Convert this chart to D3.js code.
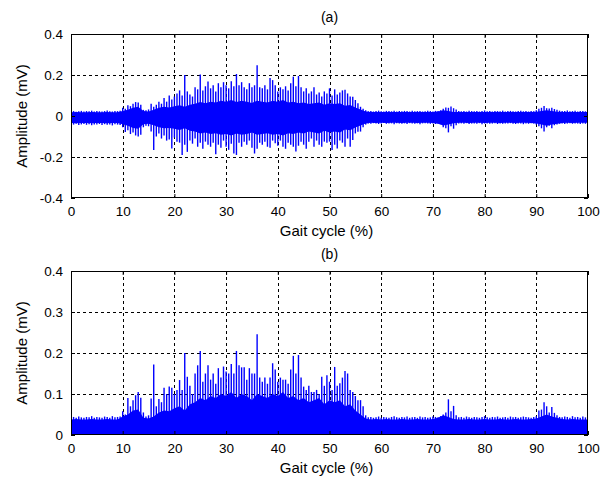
<!DOCTYPE html>
<html><head><meta charset="utf-8">
<script src="https://cdn.jsdelivr.net/npm/d3@7"></script>
<style>
body{margin:0;background:#fff}
svg{display:block}
text{font-family:"Liberation Sans",Arial,sans-serif;fill:#000}
</style>
</head><body>
<svg id="chart" width="608" height="479"></svg>
<script>
// ---------- DATA ----------
const sampleStep = 0.5;           // % of gait cycle between peak samples
const coreStep = 1;               // % of gait cycle between core-envelope samples

// (a) raw EMG: positive / negative peak per 0.5 % (µV)
const aPosPeak_uV = [
 22,24,21,23,25,22,24,23,26,22,25,23,22,24,27,23,22,25,24,26,
 40,35,52,48,60,68,66,55,30,28,32,60,45,55,70,60,88,70,100,80,
 95,110,125,100,200,120,105,95,140,130,202,125,145,168,135,150,120,160,140,165,
 150,135,170,145,205,150,165,140,130,160,140,150,248,140,135,150,130,185,175,150,
 120,140,130,145,125,160,192,145,195,140,120,135,110,120,140,105,115,95,120,110,
 135,100,130,105,115,125,128,110,95,94,78,62,45,35,28,
 23,25,22,24,26,23,22,25,24,23,26,22,24,23,25,24,22,26,23,24,25,22,23,26,24,22,25,24,28,
 35,42,40,46,38,32,
 25,23,24,22,26,24,23,25,22,24,27,23,24,22,25,24,23,26,22,24,25,23,22,24,26,23,25,22,24,23,28,
 35,40,49,38,36,40,34,30,
 26,24,25,27,23,24,26,22,25,24,23,24
];
const aNegPeak_uV = [
 -40,-42,-38,-44,-41,-39,-43,-40,-45,-41,-42,-39,-44,-40,-43,-41,-46,-40,-42,-44,
 -55,-78,-70,-88,-80,-95,-100,-92,-55,-48,-50,-75,-166,-100,-85,-110,-95,-120,-115,-158,
 -105,-125,-130,-190,-140,-175,-120,-135,-110,-150,-130,-160,-125,-140,-150,-130,-186,-140,-155,-120,
 -150,-165,-135,-183,-190,-130,-150,-125,-140,-120,-155,-183,-160,-130,-140,-125,-150,-155,-120,-133,
 -145,-120,-150,-160,-130,-140,-150,-173,-145,-125,-140,-160,-125,-110,-150,-120,-140,-150,-125,-130,
 -125,-166,-140,-158,-120,-130,-150,-110,-150,-117,-85,-77,-76,-55,-42,
 -36,-38,-35,-37,-39,-36,-34,-38,-37,-36,-40,-35,-37,-38,-36,-39,-35,-37,-38,-36,-40,-36,-35,-37,-38,-36,-39,-37,-40,
 -55,-60,-80,-50,-62,-45,
 -37,-36,-38,-35,-39,-37,-36,-38,-35,-40,-37,-36,-38,-37,-35,-39,-36,-38,-37,-36,-35,-38,-39,-36,-37,-40,-36,-38,-35,-37,-42,
 -50,-60,-76,-55,-48,-60,-45,-42,
 -38,-36,-39,-37,-35,-38,-36,-37,-39,-36,-38,-37
];
// (a) dense core band per 1 % (µV)
const aCoreTop_uV = [
 18,19,18,18,19,18,18,19,18,18,
 25,30,40,45,25,22,30,40,45,42,
 48,52,45,55,60,68,62,70,66,75,
 70,78,68,75,70,64,75,70,66,75,
 70,78,66,70,62,66,58,62,66,55,
 62,58,62,50,54,42,32,22,19,20,
 19,20,19,19,20,19,19,20,19,19,
 20,22,28,25,20,19,19,20,19,19,
 20,19,19,20,19,19,20,19,19,20,
 21,25,28,24,21,20,19,20,19,19,
 19
];
const aCoreBot_uV = [
 -34,-35,-34,-34,-35,-34,-34,-35,-34,-34,
 -40,-48,-58,-62,-40,-38,-45,-55,-60,-58,
 -62,-68,-60,-72,-76,-85,-80,-88,-84,-92,
 -88,-95,-85,-92,-88,-80,-92,-88,-84,-92,
 -88,-95,-84,-88,-80,-85,-76,-80,-85,-72,
 -80,-76,-80,-66,-70,-56,-46,-36,-33,-34,
 -33,-34,-33,-33,-34,-33,-33,-34,-33,-33,
 -34,-38,-46,-42,-35,-33,-33,-34,-33,-33,
 -34,-33,-33,-34,-33,-33,-34,-33,-33,-34,
 -36,-42,-48,-42,-38,-34,-33,-34,-33,-33,
 -33
];

// (b) rectified EMG: peak per 0.5 % (µV)
const bPeak_uV = [
 43,44,42,45,43,42,44,43,46,42,44,43,42,45,44,42,46,43,44,45,
 58,50,90,70,85,97,105,91,55,45,48,89,172,70,88,80,115,100,118,115,
 100,110,134,110,200,142,120,100,150,170,205,130,150,170,135,150,125,163,140,167,
 155,150,173,150,205,170,165,165,135,163,150,150,246,140,130,140,125,140,175,160,
 130,140,135,135,125,160,193,150,195,140,118,110,120,105,105,110,100,142,120,146,
 130,110,166,120,126,140,156,150,110,105,95,85,85,70,48,
 43,44,42,43,45,42,44,43,42,44,46,43,42,44,43,45,42,43,44,42,45,43,44,42,43,45,44,43,46,
 50,55,87,58,71,48,
 43,44,42,45,43,42,44,43,42,44,46,43,42,44,43,45,42,43,44,42,45,43,44,42,43,45,44,43,42,44,46,
 60,62,80,70,55,68,54,48,
 44,43,45,44,42,46,43,44,42,45,43,44
];
// (b) dense core per 1 % (µV)
const bCore_uV = [
 38,39,38,38,39,38,38,39,38,38,
 45,50,60,62,42,40,45,55,60,58,
 65,70,60,75,80,90,85,95,90,100,
 95,105,90,100,95,85,100,95,90,100,
 95,105,90,95,85,90,80,85,90,75,
 85,80,85,70,75,60,50,40,38,39,
 38,39,38,38,39,38,38,39,38,38,
 39,42,48,44,39,38,38,39,38,38,
 39,38,38,39,38,38,39,38,38,39,
 40,45,50,45,42,39,38,39,38,38,
 38
];

// axes / text
const xTicks = [0,10,20,30,40,50,60,70,80,90,100];
const yTicksA = [-0.4,-0.2,0,0.2,0.4];
const yTicksB = [0,0.1,0.2,0.3,0.4];
const panelTitles = ["(a)","(b)"];
const xLabel = "Gait cycle (%)";
const yLabel = "Amplitude (mV)";

// ---------- DRAWING ----------
const svg = d3.select("#chart");
const L = 71, R = 588;
const x = d3.scaleLinear().domain([0,100]).range([L,R]);
const blue = "#0000ff";

function panel(id, top, bottom, yDomain, yTicks, title, drawData){
  const y = d3.scaleLinear().domain(yDomain).range([bottom, top]);
  const g = svg.append("g");
  const clipId = "clip"+id;
  g.append("clipPath").attr("id",clipId).append("rect")
    .attr("x",L).attr("y",top).attr("width",R-L).attr("height",bottom-top);

  // grid (below data)
  const grid = g.append("g").attr("stroke","#000").attr("stroke-width",1).attr("stroke-dasharray","3,3");
  xTicks.slice(1,-1).forEach(t=>{
    grid.append("line").attr("x1",Math.round(x(t))+0.5).attr("x2",Math.round(x(t))+0.5)
      .attr("y1",top).attr("y2",bottom);
  });
  yTicks.slice(1,-1).forEach(t=>{
    grid.append("line").attr("y1",Math.round(y(t))+0.5).attr("y2",Math.round(y(t))+0.5)
      .attr("x1",L).attr("x2",R);
  });

  const dg = g.append("g").attr("clip-path",`url(#${clipId})`);
  drawData(dg, y);

  // axes
  const fmt = d => d===0 ? "0" : String(d);
  const ax = g.append("g").attr("transform",`translate(0,${bottom})`)
    .call(d3.axisBottom(x).tickValues(xTicks).tickSize(-4).tickPadding(8).tickFormat(fmt));
  const axT = g.append("g").attr("transform",`translate(0,${top})`)
    .call(d3.axisTop(x).tickValues(xTicks).tickSize(-4).tickFormat(""));
  const ay = g.append("g").attr("transform",`translate(${L},0)`)
    .call(d3.axisLeft(y).tickValues(yTicks).tickSize(-4).tickPadding(8).tickFormat(fmt));
  const ayR = g.append("g").attr("transform",`translate(${R},0)`)
    .call(d3.axisRight(y).tickValues(yTicks).tickSize(-4).tickFormat(""));
  [ax,axT,ay,ayR].forEach(a=>{
    a.select(".domain").remove();
    a.selectAll("line").attr("stroke","#000");
    a.selectAll("text").attr("font-size",13.5).attr("font-family","Liberation Sans, Arial, sans-serif").attr("fill","#000");
  });
  g.append("rect").attr("x",L+0.5).attr("y",top+0.5).attr("width",R-L-1).attr("height",bottom-top-1)
    .attr("fill","none").attr("stroke","#000").attr("stroke-width",1);

  g.append("text").attr("x",(L+R)/2).attr("y",top-12).attr("text-anchor","middle")
    .attr("font-size",14).text(title);
  g.append("text").attr("x",(L+R)/2 - 3).attr("y",bottom+38).attr("text-anchor","middle")
    .attr("font-size",15).text(xLabel);
  g.append("text").attr("transform",`translate(27,${(top+bottom)/2}) rotate(-90)`)
    .attr("text-anchor","middle").attr("font-size",15).text(yLabel);
}

const toMV = v => v/1000;

panel("a", 34, 198, [-0.4,0.4], yTicksA, panelTitles[0], (g,y)=>{
  const core = aCoreTop_uV.map((t,i)=>({p:i*coreStep, hi:toMV(t), lo:toMV(aCoreBot_uV[i])}));
  g.append("path").datum(core)
    .attr("d", d3.area().x(d=>x(d.p)).y0(d=>y(d.lo)).y1(d=>y(d.hi)))
    .attr("fill",blue);
  g.append("g").attr("stroke",blue).attr("stroke-width",1.4)
    .selectAll("line").data(aPosPeak_uV.map((v,i)=>({p:i*sampleStep, hi:toMV(v), lo:toMV(aNegPeak_uV[i])})))
    .join("line").attr("x1",d=>x(d.p)).attr("x2",d=>x(d.p)).attr("y1",d=>y(d.lo)).attr("y2",d=>y(d.hi));
});

panel("b", 271, 435, [0,0.4], yTicksB, panelTitles[1], (g,y)=>{
  const core = bCore_uV.map((t,i)=>({p:i*coreStep, hi:toMV(t)}));
  g.append("path").datum(core)
    .attr("d", d3.area().x(d=>x(d.p)).y0(y(0)).y1(d=>y(d.hi)))
    .attr("fill",blue);
  g.append("g").attr("stroke",blue).attr("stroke-width",1.4)
    .selectAll("line").data(bPeak_uV.map((v,i)=>({p:i*sampleStep, hi:toMV(v)})))
    .join("line").attr("x1",d=>x(d.p)).attr("x2",d=>x(d.p)).attr("y1",y(0)).attr("y2",d=>y(d.hi));
});
</script>
</body></html>
